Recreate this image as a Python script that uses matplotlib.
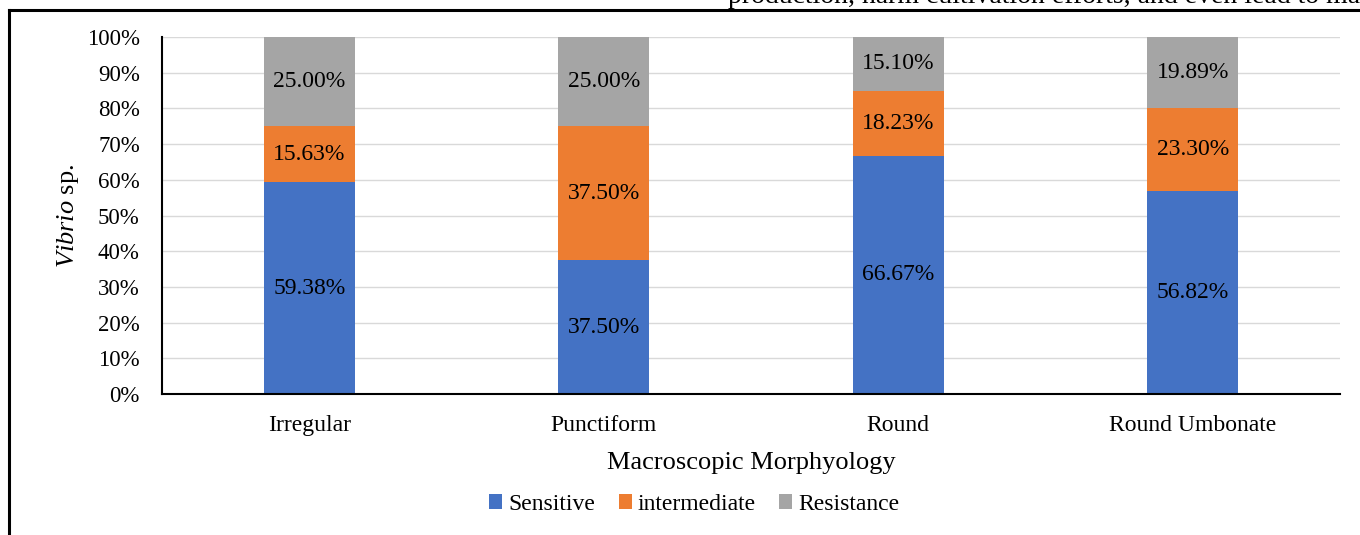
import numpy as np
import matplotlib
matplotlib.use("Agg")
import matplotlib.pyplot as plt
from matplotlib.lines import Line2D

plt.rcParams['font.family'] = ['Liberation Serif', 'DejaVu Serif']
plt.rcParams['mathtext.fontset'] = 'custom'
plt.rcParams['mathtext.it'] = 'Liberation Serif:italic'
plt.rcParams['mathtext.rm'] = 'Liberation Serif'

# data
categories = ['Irregular', 'Punctiform', 'Round', 'Round Umbonate']
sensitive = [59.38, 37.50, 66.67, 56.82]
intermediate = [15.63, 37.50, 18.23, 23.30]
resistance = [25.00, 25.00, 15.10, 19.89]
series_names = ['Sensitive', 'intermediate', 'Resistance']
colors = ['#4472C4', '#ED7D31', '#A5A5A5']

fig = plt.figure(figsize=(13.6, 5.35), dpi=100)
ax = fig.add_axes([162 / 1360, 1 - 394 / 535, 1178 / 1360, 357 / 535])

x = np.arange(len(categories))
bottom = np.zeros(len(categories))
for name, vals, col in zip(series_names, [sensitive, intermediate, resistance], colors):
    vals = np.array(vals)
    ax.bar(x, vals, 0.31, bottom=bottom, color=col, label=name, zorder=2)
    for xi, b, v in zip(x, bottom, vals):
        ax.text(xi, b + v / 2, '%.2f%%' % v, ha='center', va='center', fontsize=17, color='black', zorder=3)
    bottom = bottom + vals

ax.set_xlim(-0.5, len(categories) - 0.5)
ax.set_ylim(0, 100)
ax.set_yticks(np.arange(0, 101, 10))
ax.set_yticklabels(['%d%%' % t for t in range(0, 101, 10)], fontsize=16.5)
ax.set_xticks(x)
ax.set_xticklabels(categories, fontsize=17)
ax.tick_params(axis='y', length=0, pad=16)
ax.tick_params(axis='x', length=0, pad=15)
ax.yaxis.grid(True, color='#d9d9d9', linewidth=1, zorder=0)
ax.set_axisbelow(True)
for s in ['top', 'right']:
    ax.spines[s].set_visible(False)
ax.spines['left'].set_linewidth(1.5)
ax.spines['bottom'].set_linewidth(1.5)

ax.set_xlabel('Macroscopic Morphyology', fontsize=19, labelpad=12)
ax.set_ylabel(r'$\it{Vibrio}$ sp.', fontsize=19, labelpad=4)

ax.legend(loc='upper center', bbox_to_anchor=(0.452, -0.22), ncol=3, frameon=False,
          fontsize=17, handlelength=0.55, handleheight=0.55, handletextpad=0.25, columnspacing=1.0)

# page frame and cut-off text from the document
fig.add_artist(Line2D([9 / 1360, 9 / 1360], [0, 1 - 10 / 535], color='black', linewidth=2.2))
fig.add_artist(Line2D([9 / 1360, 1], [1 - 10 / 535, 1 - 10 / 535], color='black', linewidth=2.2))
fig.text(728 / 1360, 1 - 3 / 535, 'production, harm cultivation efforts, and even lead to ma',
         fontsize=20, va='baseline', ha='left')

fig.savefig('out.png', dpi=100)
